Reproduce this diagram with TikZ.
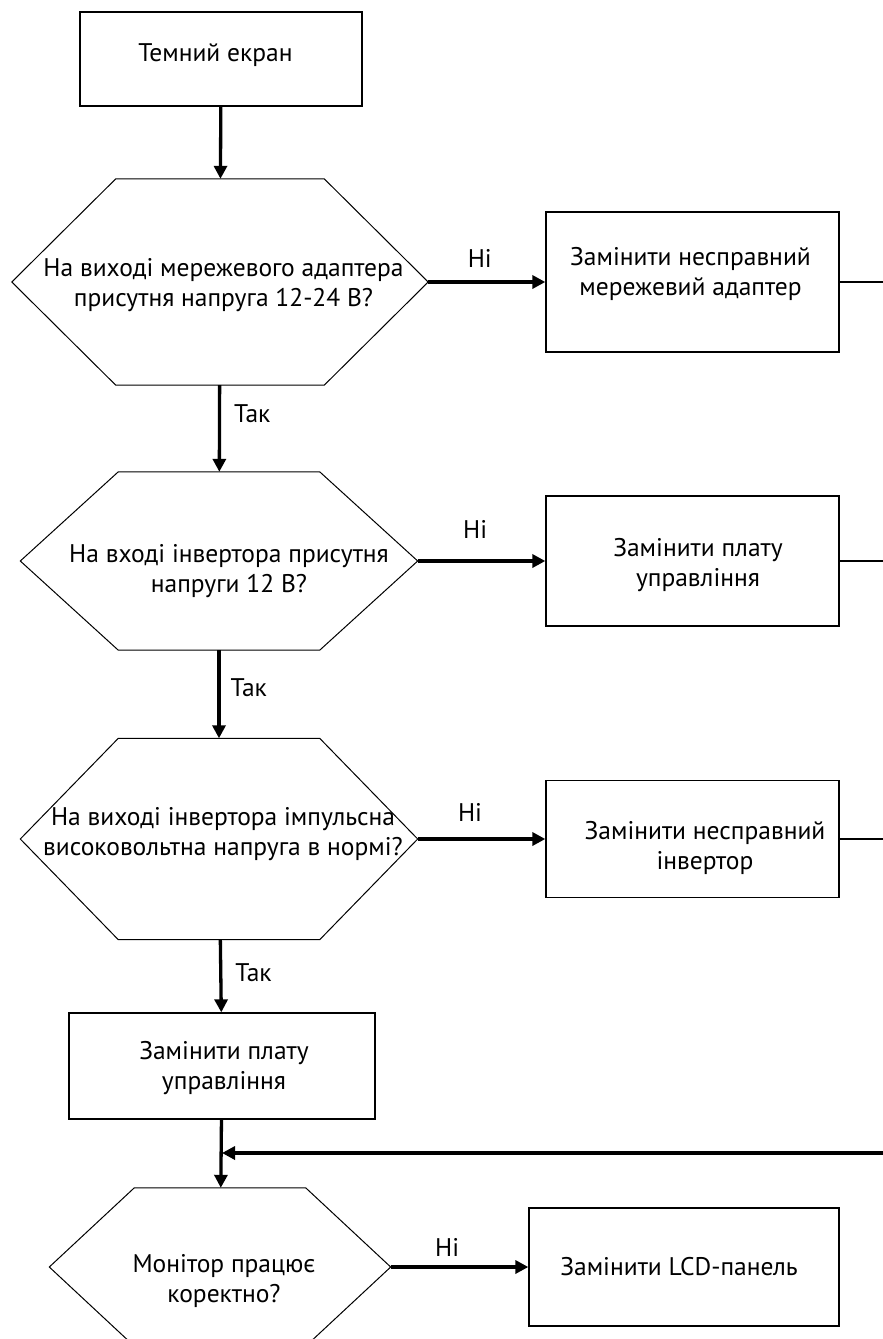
\documentclass[tikz,border=0pt]{standalone}
\usepackage{fontspec}
\setmainfont{PT Sans}
\usetikzlibrary{arrows.meta}
\begin{document}
\begin{tikzpicture}[x=1pt,y=-1pt,
  font=\fontsize{25.5}{30}\selectfont,
  box/.style={draw,line width=1.3pt,inner sep=0pt},
  hexa/.style={inner sep=0pt},
  txt/.style={align=center,inner sep=0pt},
  arr/.style={line width=3.3pt,-{Triangle[length=13pt,width=13pt]}},
  link/.style={line width=1.2pt},
  lbl/.style={inner sep=0pt}]
\useasboundingbox (0,0) rectangle (883,1339);
% left column
\node[box,minimum width=282pt,minimum height=94pt] (start) at (221,59) {};
\node[hexa,minimum width=416pt,minimum height=206pt] (q1) at (220,282) {};
\node[hexa,minimum width=397pt,minimum height=178pt] (q2) at (219,561) {};
\node[hexa,minimum width=397pt,minimum height=201pt] (q3) at (219,839) {};
\node[box,minimum width=306pt,minimum height=106pt] (fix) at (222,1066) {};
\node[hexa,minimum width=341pt,minimum height=158pt] (q4) at (220,1267) {};
\foreach \n/\c in {q1/104,q2/98,q3/98,q4/85}
  \draw[line width=1pt] (\n.west) -- ([xshift=\c]\n.north west)
    -- ([xshift=-\c]\n.north east) -- (\n.east)
    -- ([xshift=-\c]\n.south east) -- ([xshift=\c]\n.south west) -- cycle;
% right column
\node[box,minimum width=293pt,minimum height=140pt] (a1) at (692.5,282) {};
\node[box,minimum width=293pt,minimum height=130pt] (a2) at (692.5,561) {};
\node[box,minimum width=293pt,minimum height=117pt] (a3) at (692.5,839) {};
\node[box,minimum width=310pt,minimum height=118pt] (a4) at (684,1267) {};
% texts
\node[txt] (tstart) at (215.5,55) {Темний екран};
\node[txt] (t1) at (223.5,285) {На виході мережевого адаптера\\присутня напруга 12-24 В?};
\node[txt] (t2) at (229,571) {На вході інвертора присутня\\напруги 12 В?};
\node[txt] (t3) at (223,834) {На виході інвертора імпульсна\\високовольтна напруга в нормі?};
\node[txt] (t4) at (224,1281) {Монітор працює\\коректно?};
\node[txt] (ta1) at (690.5,274) {Замінити несправний\\мережевий адаптер};
\node[txt] (ta2) at (698,565) {Замінити плату\\управління};
\node[txt] (ta3) at (705,848) {Замінити несправний\\інвертор};
\node[txt] (tfix) at (224,1068) {Замінити плату\\управління};
\node[txt] (ta4) at (679,1267) {Замінити LCD-панель};
% connectors
\draw[arr] (start) -- (q1);
\draw[arr] (q1) -- node[lbl,pos=.33,right=13pt] (y1) {Так} (q2);
\draw[arr] (q2) -- node[lbl,pos=.42,right=10pt] (y2) {Так} (q3);
\draw[arr] (q3) -- node[lbl,pos=.45,right=13pt] (y3) {Так} (fix);
\draw[arr] (fix) -- (q4);
\draw[arr] (q1) -- node[lbl,pos=.44,yshift=24pt] (n1) {Ні} (a1);
\draw[arr] (q2) -- node[lbl,pos=.45,yshift=32pt] (n2) {Ні} (a2);
\draw[arr] (q3) -- node[lbl,pos=.41,yshift=27pt] (n3) {Ні} (a3);
\draw[arr] (q4) -- node[lbl,pos=.41,yshift=20pt] (n4) {Ні} (a4);
% return line
\coordinate (r1) at (883,282);
\coordinate (r2) at (883,561);
\coordinate (r3) at (883,839);
\coordinate (r4) at (883,1153);
\coordinate (j) at (222,1153);
\draw[link] (a1) -- (r1);
\draw[link] (a2) -- (r2);
\draw[link] (a3) -- (r3);
\draw[arr] (r4) -- (j);
\end{tikzpicture}
\end{document}
